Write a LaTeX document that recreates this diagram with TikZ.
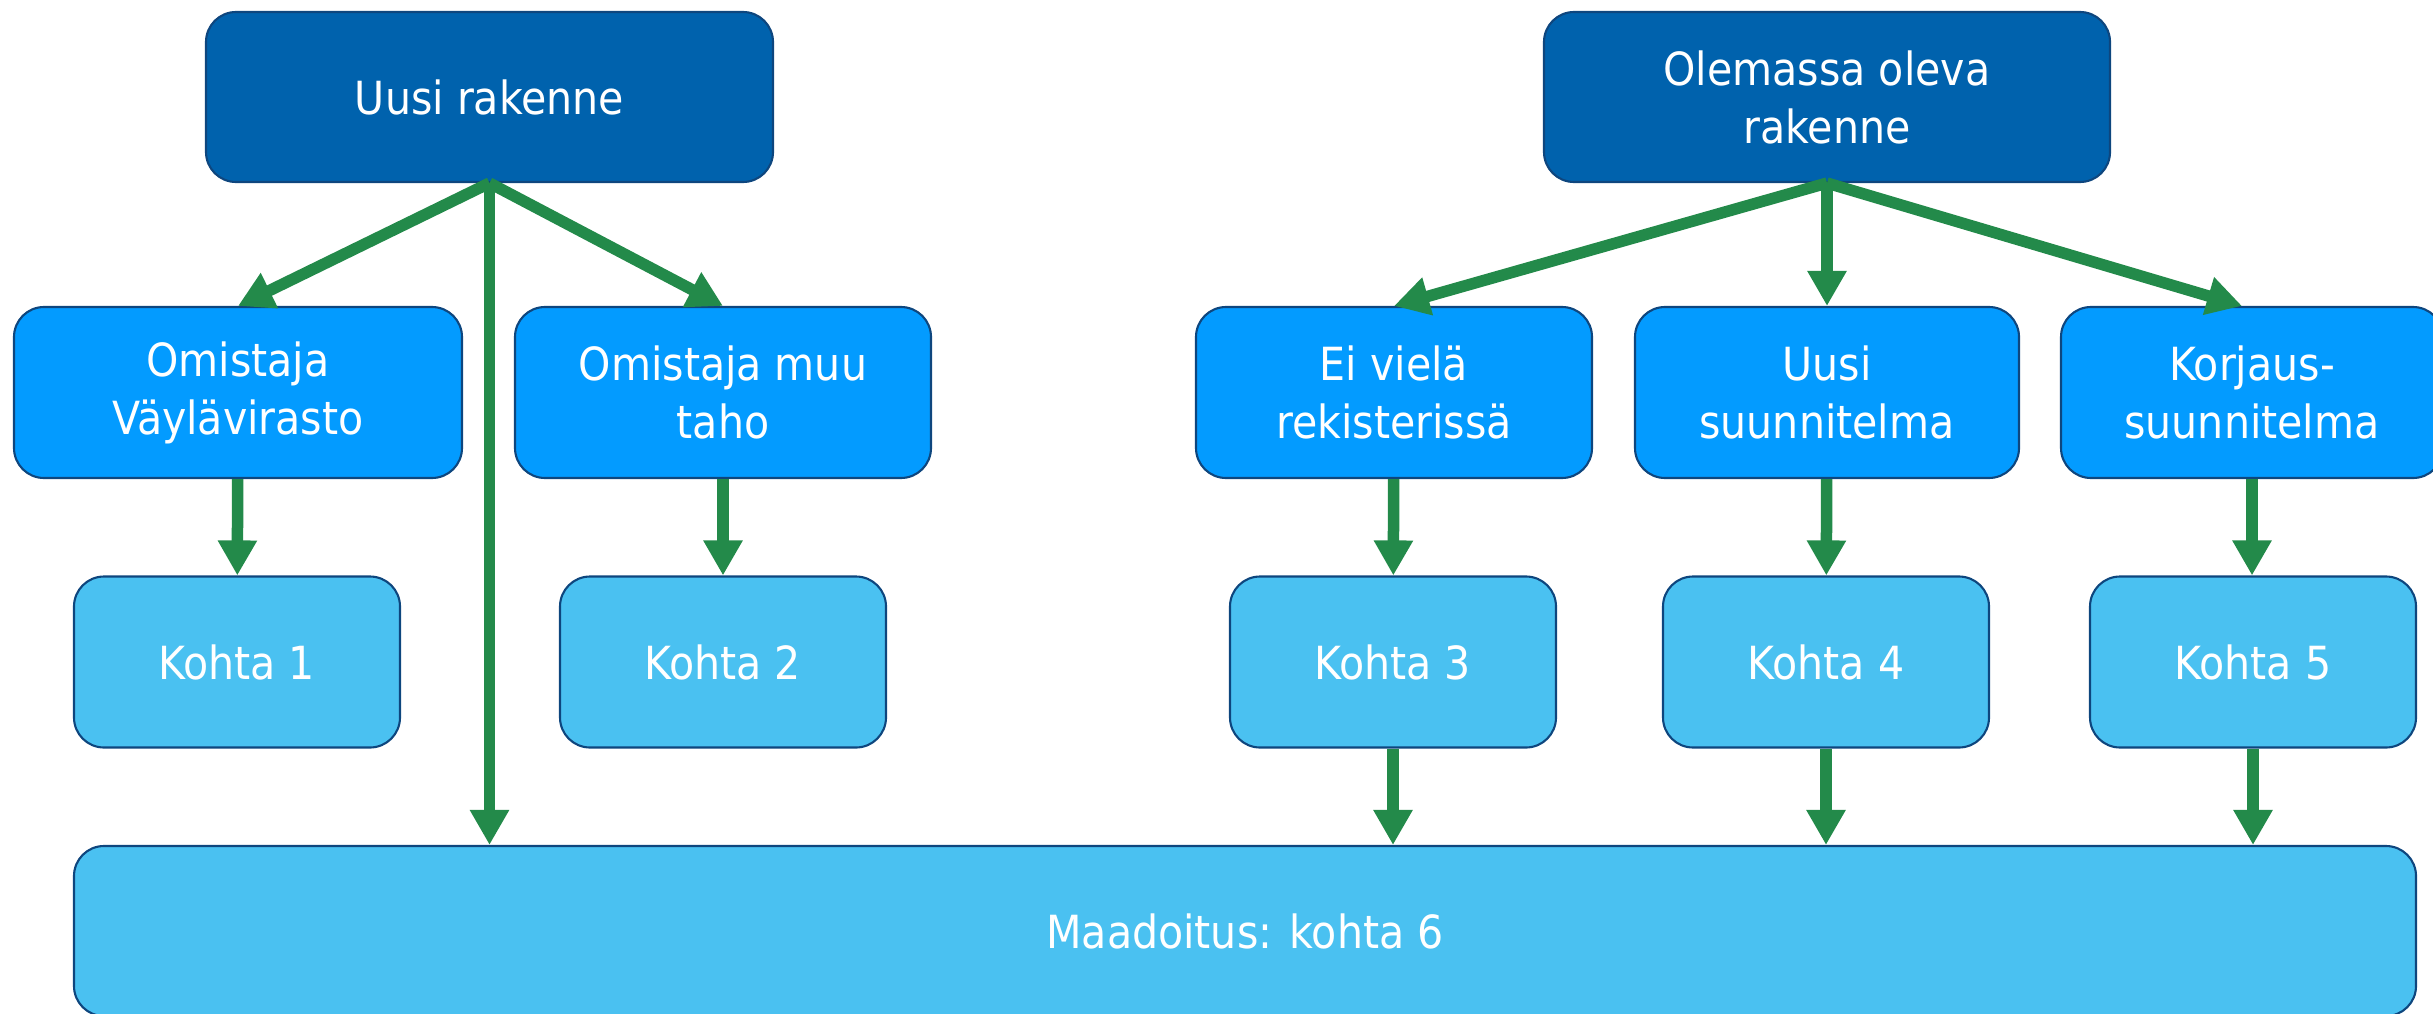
\documentclass[tikz,border=0pt]{standalone}
\usepackage{fontspec}
\setmainfont{DejaVu Sans Condensed}
\usepackage{tikz}
\usetikzlibrary{calc}
\usetikzlibrary{positioning}
\usetikzlibrary{arrows.meta}

\definecolor{topblue}{HTML}{0062AD}
\definecolor{midblue}{HTML}{039BFF}
\definecolor{lowblue}{HTML}{4AC1F1}
\definecolor{edgeblue}{HTML}{0E467E}
\definecolor{arrgreen}{HTML}{238A4A}

\tikzset{
  box/.style={draw=edgeblue, line width=0.6pt, rounded corners=0.3cm, inner sep=0pt,
    align=center, text=white, font=\fontsize{13}{16.5}\selectfont, minimum height=1.71cm},
  topbox/.style={box, fill=topblue},
  midbox/.style={box, fill=midblue},
  lowbox/.style={box, fill=lowblue, minimum width=3.26cm},
  arr/.style={draw=arrgreen, line width=0.115cm, -{Triangle[width=0.37cm,length=0.35cm]}}
}

\begin{document}
\begin{tikzpicture}
    \useasboundingbox (0,0) rectangle (24.33,-10.13);

    \node[topbox, minimum width=5.67cm, minimum height=1.70cm] (uusi) at (4.895,-0.97) {Uusi rakenne};
    \node[topbox, minimum width=5.66cm, minimum height=1.70cm] (olemassa) at (18.27,-0.97) {Olemassa oleva\\rakenne};

    \node[midbox, minimum width=4.48cm] (vayla) at (2.38,-3.925) {Omistaja\\Väylävirasto};
    \node[midbox, minimum width=4.16cm] (muu) at (7.23,-3.925) {Omistaja muu\\taho};
    \node[midbox, minimum width=3.96cm] (eirek) at (13.94,-3.925) {Ei vielä\\rekisterissä};
    \node[midbox, minimum width=3.84cm] (suunn) at (18.27,-3.925) {Uusi\\suunnitelma};
    \node[midbox, minimum width=3.82cm] (korj) at (22.52,-3.925) {Korjaus-\\suunnitelma};

    \node[lowbox] (k1) at (2.37,-6.62) {Kohta 1};
    \node[lowbox] (k2) at (7.23,-6.62) {Kohta 2};
    \node[lowbox] (k3) at (13.93,-6.62) {Kohta 3};
    \node[lowbox] (k4) at (18.26,-6.62) {Kohta 4};
    \node[lowbox] (k5) at (22.53,-6.62) {Kohta 5};

    \node[lowbox, minimum width=23.42cm, minimum height=1.70cm] (maa) at (12.45,-9.31) {Maadoitus: kohta 6};

    \draw[arr] (uusi.south) -- (vayla.north);
    \draw[arr] (uusi.south) -- (muu.north);
    \draw[arr] (uusi.south) -- (uusi.south |- maa.north);

    \draw[arr] (olemassa.south) -- (eirek.north);
    \draw[arr] (olemassa.south) -- (suunn.north);
    \draw[arr] (olemassa.south) -- ($(korj.north)+(-0.1,0)$);

    \draw[arr] (vayla) -- (k1);
    \draw[arr] (muu) -- (k2);
    \draw[arr] (eirek) -- (k3);
    \draw[arr] (suunn) -- (k4);
    \draw[arr] (korj.south) -- (korj.south |- k5.north);

    \draw[arr] (k3.south) -- (k3.south |- maa.north);
    \draw[arr] (k4.south) -- (k4.south |- maa.north);
    \draw[arr] (k5.south) -- (k5.south |- maa.north);

\end{tikzpicture}
\end{document}
